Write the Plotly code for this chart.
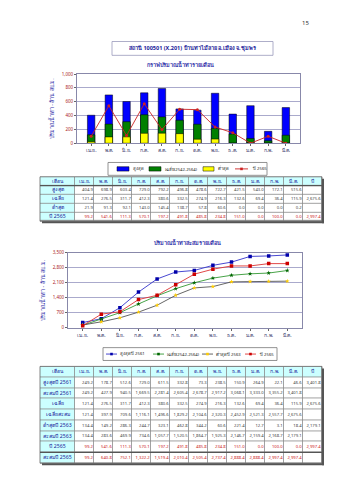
import plotly.graph_objects as go

months = ["เม.ย.", "พ.ค.", "มิ.ย.", "ก.ค.", "ส.ค.", "ก.ย.", "ต.ค.", "พ.ย.", "ธ.ค.", "ม.ค.", "ก.พ.", "มี.ค."]

# Table 1 / chart 1 (monthly runoff, million m3)
max_vals = [404.9, 698.9, 603.4, 729.0, 792.2, 496.8, 478.6, 722.7, 421.5, 543.0, 172.1, 515.6]
avg_vals = [121.4, 276.5, 311.7, 412.3, 380.6, 332.5, 274.9, 216.3, 132.6, 69.4, 36.4, 115.9]
min_vals = [21.9, 91.3, 92.1, 143.0, 145.4, 138.7, 57.8, 60.6, 0.0, 0.0, 0.0, 0.2]
y2565 = [99.2, 541.6, 111.3, 570.1, 197.2, 491.8, 485.8, 234.8, 151.0, 0.0, 100.0, 0.0]
avg_total = "2,675.6"
y2565_total = "2,997.4"

# Table 2 / chart 2 (cumulative)
max2561 = [249.2, 178.7, 512.6, 729.0, 611.5, 332.8, 73.3, 238.5, 150.9, 264.9, 22.1, 46.6]
cum2561 = [249.2, 427.9, 940.5, 1669.5, 2281.4, 2605.4, 2678.7, 2917.2, 3068.1, 3333.0, 3355.2, 3401.8]
cum_avg = [121.4, 397.9, 709.6, 1116.1, 1496.6, 1829.2, 2104.6, 2320.3, 2452.9, 2521.3, 2557.7, 2675.6]
min2563 = [134.4, 149.2, 286.3, 244.7, 323.1, 462.8, 344.2, 60.6, 221.4, 12.7, 3.1, 18.4]
cum2563 = [134.4, 283.6, 469.9, 734.6, 1057.7, 1520.5, 1864.7, 1925.3, 2146.7, 2159.4, 2168.7, 2179.1]
cum2565 = [99.2, 640.8, 752.1, 1322.2, 1519.4, 2010.4, 2505.4, 2737.4, 2888.4, 2888.4, 2997.4, 2997.4]
max2561_total = "3,401.8"
min2563_total = "2,179.1"

W, H = 339, 480
FONT = "Noto Sans, DejaVu Sans, sans-serif"
NAVY = "#1a1a99"
RED = "#cc2222"
GREY_TXT = "#444444"

def fx(px):
    return px / W

def fy(py):
    return 1 - py / H

def fmt(v):
    return f"{v:,.1f}"

fig = go.Figure()

# ---------- chart 1: bars ----------
BW = 0.42
fig.add_trace(go.Bar(x=months, y=max_vals, name="สูงสุด", marker=dict(color="#0000ff", line=dict(color="#000", width=0.5)),
                     width=BW, xaxis="x", yaxis="y"))
fig.add_trace(go.Bar(x=months, y=avg_vals, name="เฉลี่ย(2542-2564)", marker=dict(color="#008000", line=dict(color="#000", width=0.5)),
                     width=BW, xaxis="x", yaxis="y"))
fig.add_trace(go.Bar(x=months, y=min_vals, name="ต่ำสุด", marker=dict(color="#ffff00", line=dict(color="#000", width=0.5)),
                     width=BW, xaxis="x", yaxis="y"))
fig.add_trace(go.Scatter(x=months, y=y2565, name="ปี 2565", mode="lines+markers",
                         line=dict(color=RED, width=0.9), marker=dict(color=RED, size=3, symbol="circle"),
                         xaxis="x", yaxis="y"))

# ---------- chart 2: cumulative lines ----------
line_styles = [
    ("สูงสุดปี 2561", cum2561, "#3333cc", "#0000aa", "square"),
    ("เฉลี่ย(2542-2564)", cum_avg, "#339933", "#006600", "star"),
    ("ต่ำสุดปี 2563", cum2563, "#555555", "#ffcc00", "star"),
    ("ปี 2565", cum2565, "#dd3333", "#cc0000", "square"),
]
for name, vals, lc, mc, sym in line_styles:
    fig.add_trace(go.Scatter(x=months, y=vals, name=name, mode="lines+markers",
                             line=dict(color=lc, width=0.9), marker=dict(color=mc, size=3.5, symbol=sym),
                             xaxis="x2", yaxis="y2"))

# ---------- tables (heatmap cells + text on their own axes) ----------
FIRST = 35 / 18.9  # width of label column in month-column units

def add_table(idx, row_labels, rows, totals, row_colors, top_px, bot_px, sep_row=None, sep_after_header=False):
    xa, ya = f"x{idx}", f"y{idx}"
    n = len(row_labels)
    x_edges = [-FIRST] + list(range(0, 14))
    y_edges = list(range(0, n + 2))
    z = [[1] * 14] + [[1] + [0] * 13 for _ in range(n)]
    fig.add_trace(go.Heatmap(x=x_edges, y=y_edges, z=z, zmin=0, zmax=1,
                             colorscale=[[0, "#ffffff"], [1, "#ccffff"]], showscale=False,
                             xgap=0.8, ygap=0.8, hoverinfo="skip", xaxis=xa, yaxis=ya))
    # header
    fig.add_trace(go.Scatter(x=[-FIRST / 2] + [i + 0.5 for i in range(13)], y=[0.5] * 14,
                             text=["เดือน"] + months + ["ปี"], mode="text",
                             textfont=dict(family=FONT, size=5, color=NAVY), hoverinfo="skip",
                             xaxis=xa, yaxis=ya))
    # row labels
    fig.add_trace(go.Scatter(x=[-FIRST / 2] * n, y=[r + 1.5 for r in range(n)], text=row_labels, mode="text",
                             textfont=dict(family=FONT, size=5.2, color=NAVY), hoverinfo="skip",
                             xaxis=xa, yaxis=ya))
    # values
    for r in range(n):
        texts = [fmt(v) for v in rows[r]] + [totals[r]]
        fig.add_trace(go.Scatter(x=[i + 0.93 for i in range(13)], y=[r + 1.5] * 13, text=texts, mode="text",
                                 textposition="middle left",
                                 textfont=dict(family=FONT, size=4.2, color=row_colors[r]), hoverinfo="skip",
                                 xaxis=xa, yaxis=ya))
    hidden = dict(showgrid=False, zeroline=False, showticklabels=False, ticks="", showline=False)
    fig.update_layout(**{
        f"xaxis{idx}": dict(domain=[fx(40), fx(322)], anchor=ya, range=[-FIRST, 13], **hidden),
        f"yaxis{idx}": dict(domain=[fy(bot_px), fy(top_px)], anchor=xa, range=[n + 1, 0], **hidden),
    })
    # grid background (shows through cell gaps), outer border, shadow
    fig.add_shape(type="rect", xref=f"{xa} domain", yref=f"{ya} domain", x0=0, x1=1, y0=0, y1=1,
                  fillcolor="#8a8a8a", line=dict(width=0), layer="below")
    fig.add_shape(type="rect", xref=f"{xa} domain", yref=f"{ya} domain", x0=0, x1=1, y0=0, y1=1,
                  line=dict(color="#666666", width=0.8))
    fig.add_shape(type="line", xref="paper", yref="paper", x0=fx(323), x1=fx(323), y0=fy(bot_px + 2), y1=fy(top_px + 2),
                  line=dict(color="#555555", width=2))
    fig.add_shape(type="line", xref="paper", yref="paper", x0=fx(42), x1=fx(324), y0=fy(bot_px + 1), y1=fy(bot_px + 1),
                  line=dict(color="#555555", width=2))
    if sep_after_header:
        fig.add_shape(type="line", xref=xa, yref=ya, x0=-FIRST, x1=13, y0=1, y1=1, line=dict(color="#555555", width=1.2))
    if sep_row is not None:
        fig.add_shape(type="line", xref=xa, yref=ya, x0=-FIRST, x1=13, y0=sep_row, y1=sep_row,
                      line=dict(color="#555555", width=1.4))

add_table(3, ["สูงสุด", "เฉลี่ย", "ต่ำสุด", "ปี 2565"],
          [max_vals, avg_vals, min_vals, y2565],
          ["", avg_total, "", y2565_total],
          [GREY_TXT, GREY_TXT, GREY_TXT, RED], 176, 221, sep_after_header=True)

add_table(4, ["สูงสุดปี 2561", "สะสมปี 2561", "เฉลี่ย", "เฉลี่ยสะสม", "ต่ำสุดปี 2563", "สะสมปี 2563", "ปี 2565", "สะสมปี 2565"],
          [max2561, cum2561, avg_vals, cum_avg, min2563, cum2563, y2565, cum2565],
          [max2561_total, "", avg_total, "", min2563_total, "", y2565_total, ""],
          [GREY_TXT] * 6 + [RED, RED], 368, 466, sep_row=8)

axis_common = dict(showline=True, linecolor="#8888aa", linewidth=0.8, mirror=True, zeroline=False)

fig.update_layout(
    width=W, height=H, margin=dict(l=0, r=0, t=0, b=0),
    paper_bgcolor="white", plot_bgcolor="white",
    font=dict(family=FONT, size=5, color="#222"),
    barmode="overlay", showlegend=False,
    xaxis=dict(domain=[fx(77), fx(300)], anchor="y", ticks="outside", ticklen=2, tickcolor="#666",
               tickfont=dict(size=5, color="#333366"), **axis_common),
    yaxis=dict(domain=[fy(142), fy(72)], anchor="x", range=[0, 1000], dtick=200, tickformat=",",
               showgrid=True, gridcolor="#aaaacc", gridwidth=0.6, ticks="outside", ticklen=2, tickcolor="#666",
               tickfont=dict(size=4.5, color="#aa2222"),
               title=dict(text="ปริมาณน้ำท่า - ล้าน ลบ.ม.", font=dict(size=5.5, color="#3333aa"), standoff=6),
               **axis_common),
    xaxis2=dict(domain=[fx(68), fx(302)], anchor="y2", ticks="outside", ticklen=2, tickcolor="#666",
                tickfont=dict(size=5, color="#333366"), **axis_common),
    yaxis2=dict(domain=[fy(329), fy(253)], anchor="x2", range=[0, 3500], dtick=700, tickformat=",",
                showgrid=True, gridcolor="#aaaacc", gridwidth=0.6, ticks="outside", ticklen=2, tickcolor="#666",
                tickfont=dict(size=4.5, color="#aa2222"),
                title=dict(text="ปริมาณน้ำท่า - ล้าน ลบ.ม.", font=dict(size=5.5, color="#3333aa"), standoff=6),
                **axis_common),
)

def ann(text, x, y, size, color, xanchor="center", bold=False):
    fig.add_annotation(text=f"<b>{text}</b>" if bold else text, x=fx(x), y=fy(y), xref="paper", yref="paper",
                       showarrow=False, xanchor=xanchor, yanchor="middle",
                       font=dict(family=FONT, size=size, color=color))

# page number, title box, chart titles
ann("15", 305, 20, 6, "#333")
fig.add_shape(type="rect", xref="paper", yref="paper", x0=fx(112), x1=fx(273), y0=fy(53), y1=fy(39),
              line=dict(color="#9999bb", width=0.8))
ann("สถานี 100501 (X.201) บ้านท่าไม้ลาย อ.เมือง จ.ชุมพร", 192, 46, 5.5, NAVY, bold=True)
ann("กราฟปริมาณน้ำท่ารายเดือน", 180, 62, 5.5, "#3333aa", bold=True)
ann("ปริมาณน้ำท่าสะสมรายเดือน", 187, 243, 5.5, "#3333aa", bold=True)

# ---------- legends (drawn as key boxes) ----------
LF = 4.2

def legend_box(x0, x1, yc):
    fig.add_shape(type="rect", xref="paper", yref="paper", x0=fx(x0), x1=fx(x1), y0=fy(yc + 6.5), y1=fy(yc - 6.5),
                  line=dict(color="#777777", width=0.8), fillcolor="white")

def key_rect(x0, x1, yc, color):
    fig.add_shape(type="rect", xref="paper", yref="paper", x0=fx(x0), x1=fx(x1), y0=fy(yc + 2.2), y1=fy(yc - 2.2),
                  line=dict(color="#000", width=0.5), fillcolor=color)

def key_line(x0, x1, yc, lcolor, mcolor):
    fig.add_shape(type="line", xref="paper", yref="paper", x0=fx(x0), x1=fx(x1), y0=fy(yc), y1=fy(yc),
                  line=dict(color=lcolor, width=0.9))
    xm = (x0 + x1) / 2
    fig.add_shape(type="rect", xref="paper", yref="paper", x0=fx(xm - 1.3), x1=fx(xm + 1.3),
                  y0=fy(yc + 1.3), y1=fy(yc - 1.3), line=dict(width=0), fillcolor=mcolor)

yl1 = 168
legend_box(108, 267, yl1)
key_rect(117, 129, yl1, "#0000ff"); ann("สูงสุด", 130.5, yl1, LF, "#222", "left")
key_rect(149, 161, yl1, "#008000"); ann("เฉลี่ย(2542-2564)", 162.5, yl1, LF, "#222", "left")
key_rect(203, 214, yl1, "#ffff00"); ann("ต่ำสุด", 215.5, yl1, LF, "#222", "left")
key_line(235, 248, yl1, RED, RED); ann("ปี 2565", 249.5, yl1, LF, "#222", "left")

yl2 = 355.5
legend_box(103, 277, yl2)
for (name, vals, lc, mc, sym), (a, b) in zip(line_styles, [(106, 117), (153, 164), (202, 213), (245, 256)]):
    key_line(a, b, yl2, lc, mc)
    ann(name, b + 1.2, yl2, LF, "#222", "left")

fig.write_html("out.html")
